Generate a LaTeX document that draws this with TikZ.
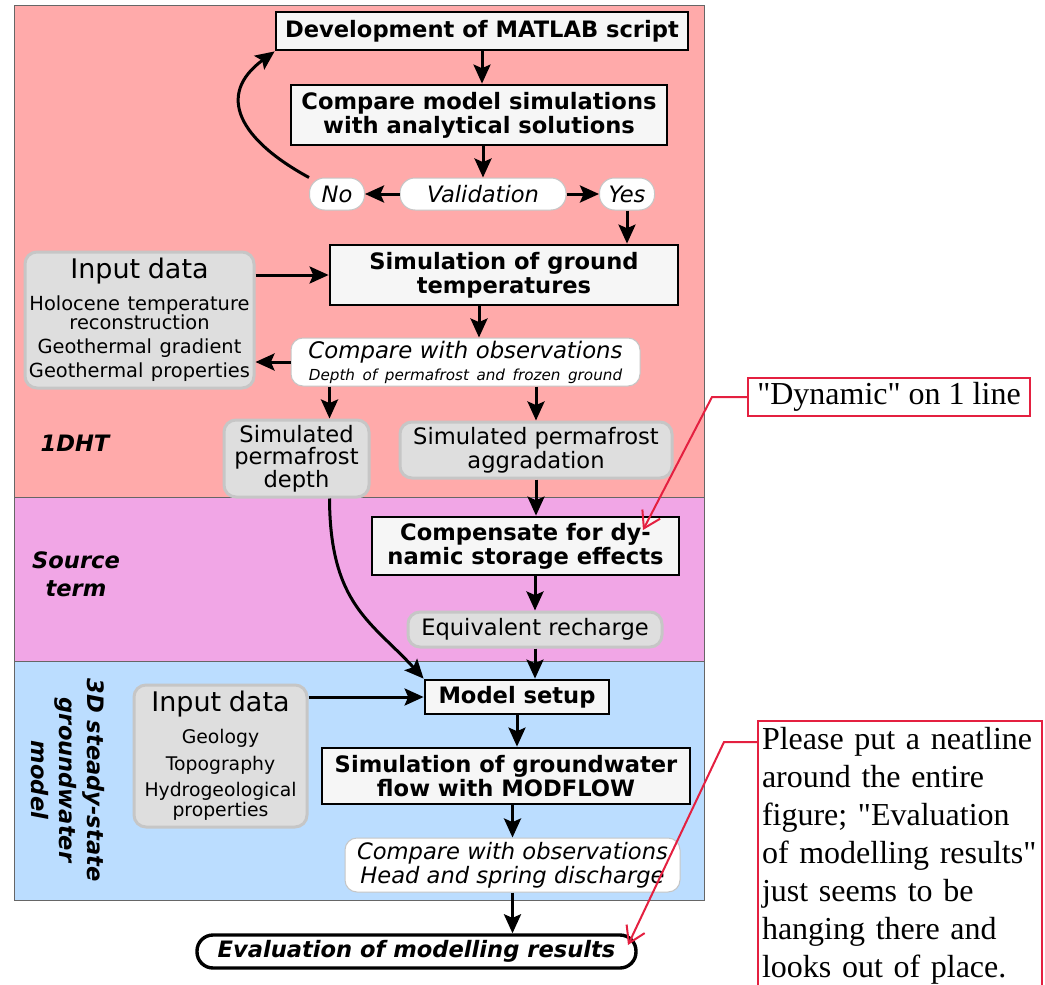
\documentclass[tikz,border=0pt]{standalone}
\usepackage{fontspec}
\setmainfont{DejaVu Sans}
\newfontfamily\notefont{Liberation Serif}
\usetikzlibrary{arrows.meta}
\definecolor{dhtpink}{RGB}{255,170,170}
\definecolor{srcpink}{RGB}{241,166,230}
\definecolor{gwblue}{RGB}{187,221,255}
\definecolor{boxgray}{RGB}{222,222,222}
\definecolor{edgegray}{RGB}{198,198,198}
\definecolor{stepfill}{RGB}{246,246,246}
\definecolor{notered}{RGB}{228,32,64}
\newcommand{\mainsize}{\fontsize{11.3}{12}\selectfont}
\newcommand{\inputsize}{\fontsize{13.5}{15}\selectfont}
\tikzset{
  stepbox/.style={draw, line width=1.4pt, fill=stepfill, align=center, inner sep=0pt, font=\mainsize\bfseries},
  databox/.style={draw=edgegray, line width=1.5pt, fill=boxgray, rounded corners=6pt, align=center, inner sep=0pt, font=\mainsize},
  obsbox/.style={draw=edgegray, line width=0.5pt, fill=white, rounded corners=6pt, align=center, inner sep=0pt, font=\mainsize\itshape},
  pill/.style={obsbox, minimum height=16pt, rounded corners=7.5pt},
  evalbox/.style={draw, line width=1.7pt, fill=white, rounded corners=8pt, inner sep=0pt, font=\mainsize\bfseries\itshape},
  lbl/.style={align=center, font=\fontsize{11.3}{14.2}\selectfont\bfseries\itshape},
  arr/.style={line width=1.5pt, -{Stealth[length=9.5pt,width=8.5pt,inset=1.8pt]}},
  bandline/.style={draw=black!60, line width=0.5pt},
  notebox/.style={draw=notered, line width=1pt, fill=white, font=\notefont\fontsize{16}{19}\selectfont},
  notearr/.style={draw=notered, line width=1pt, -{Straight Barb[length=8pt,width=10pt]}}
}
\begin{document}
\begin{tikzpicture}[x=0.5pt,y=-0.5pt]
\useasboundingbox (0,0) rectangle (1045,985);
\fill[dhtpink] (14,5) rectangle (704,497);
\fill[srcpink] (14,497) rectangle (704,661);
\fill[gwblue] (14,661) rectangle (704,900);
\draw[bandline] (14,5) rectangle (704,900);
\draw[bandline] (14,497) -- (704,497);
\draw[bandline] (14,661) -- (704,661);

\node[lbl] (dht) at (75,443) {1DHT};
\node[lbl] (src) at (76,574) {Source\\term};
\node[lbl, rotate=-90] (gwm) at (68,780) {3D steady-state\\groundwater\\model};

\node[stepbox, minimum width=206pt, minimum height=19pt] (dev) at (482,31) {Development of MATLAB script};
\node[stepbox, minimum width=188pt, minimum height=30pt] (cmp) at (479,115) {Compare model simulations\\with analytical solutions};
\node[pill, minimum width=83pt] (valid) at (483,194) {Validation};
\node[pill, minimum width=27.5pt] (no) at (337,194) {No};
\node[pill, minimum width=27.5pt] (yes) at (627,194) {Yes};
\node[stepbox, minimum width=174pt, minimum height=30pt] (simg) at (504,275) {Simulation of ground\\temperatures};
\node[databox, minimum width=114.5pt, minimum height=68pt, text width=112pt] (inp1) at (139.5,320)
  {{\inputsize Input data\par}\vspace{4.5pt}
   {\fontsize{9.7}{9.5}\selectfont Holocene temperature\\reconstruction\\[2.8pt]Geothermal gradient\\[2.6pt]Geothermal properties\par}};
\node[obsbox, minimum width=174.5pt, minimum height=24pt, text width=170pt] (obs1) at (465.5,362)
  {{\fontsize{11.4}{12}\selectfont Compare with observations\par}
   {\fontsize{7.6}{11}\selectfont Depth of permafrost and frozen ground\par}};
\node[databox, minimum width=72.5pt, minimum height=38.5pt, font=\fontsize{11.3}{11.3}\selectfont] (spd) at (296.5,458.5) {Simulated\\permafrost\\depth};
\node[databox, minimum width=136pt, minimum height=28pt] (spa) at (536,450) {Simulated permafrost\\aggradation};
\node[stepbox, minimum width=153.5pt, minimum height=29pt] (comp) at (525.5,546) {Compensate for dy-\\namic storage effects};
\node[databox, minimum width=127pt, minimum height=17.5pt] (eqr) at (535,629.5) {Equivalent recharge};
\node[stepbox, minimum width=92pt, minimum height=17pt] (setup) at (517,697) {Model setup};
\node[databox, minimum width=86.5pt, minimum height=71pt, text width=84pt] (inp2) at (220.5,756)
  {{\inputsize Input data\par}\vspace{5pt}
   {\fontsize{9.4}{9}\selectfont Geology\\[3.3pt]Topography\\[3pt]Hydrogeological\\properties\par}};
\node[stepbox, minimum width=184pt, minimum height=28pt] (sgw) at (506,776) {Simulation of groundwater\\flow with MODFLOW};
\node[obsbox, minimum width=167.5pt, minimum height=27pt] (obs2) at (512.5,865) {Compare with observations\\Head and spring discharge};
\node[evalbox, minimum width=219.5pt, minimum height=16.5pt] (eval) at (416.5,951.5) {Evaluation of modelling results};

\coordinate (spdin) at ([xshift=19.5pt]obs1.south west);
\coordinate (spdout) at (spdin|-spd.south);

\draw[arr] (dev.south) -- (dev.south|-cmp.north);
\draw[arr] (cmp.south-|valid) -- (valid.north);
\draw[arr] (valid.west) -- (no.east);
\draw[arr] (valid.east) -- (yes.west);
\draw[arr] (no.north west) .. controls (240,140) and (215,95) .. (dev.south west);
\draw[arr] (yes.south) -- (yes.south|-simg.north);
\draw[arr] (inp1.east|-simg.west) -- (simg.west);
\draw[arr] (simg.south-|cmp) -- (obs1.north-|cmp);
\draw[arr] (obs1.west) -- (obs1.west-|inp1.east);
\draw[arr] (spdin) -- (spdin|-spd.north);
\draw[arr] (obs1.south-|spa) -- (spa.north);
\draw[arr] (spa.south) -- (spa.south|-comp.north);
\draw[arr] (comp.south-|eqr) -- (eqr.north);
\draw[arr] (eqr.south) -- (eqr.south|-setup.north);
\draw[arr] (spdout) .. controls (330,605) and (372,622) .. (setup.north west);
\draw[arr] (inp2.east|-setup.west) -- (setup.west);
\draw[arr] (setup.south) -- (setup.south|-sgw.north);
\draw[arr] (sgw.south-|obs2) -- (obs2.north);
\draw[arr] (obs2.south) -- (obs2.south|-eval.north);

\node[notebox, minimum width=141pt, minimum height=19pt, inner sep=0pt] (dyn) at (889,397) {"Dynamic" on 1 line};
\node[notebox, anchor=north west, text width=138pt, align=left, inner xsep=2pt, inner ysep=3pt] (neat) at (757,720)
  {Please put a neatline\\around the entire\\figure; "Evaluation\\of modelling results"\\just seems to be\\hanging there and\\looks out of place.};
\coordinate (dyntip) at (643,530);
\coordinate (neattip) at (628,945);
\draw[notearr] (dyn.west) -- ++(-17.5pt,0) -- (dyntip);
\draw[notearr] ([yshift=-11pt]neat.north west) -- ++(-16.5pt,0) -- (neattip);
\end{tikzpicture}
\end{document}
